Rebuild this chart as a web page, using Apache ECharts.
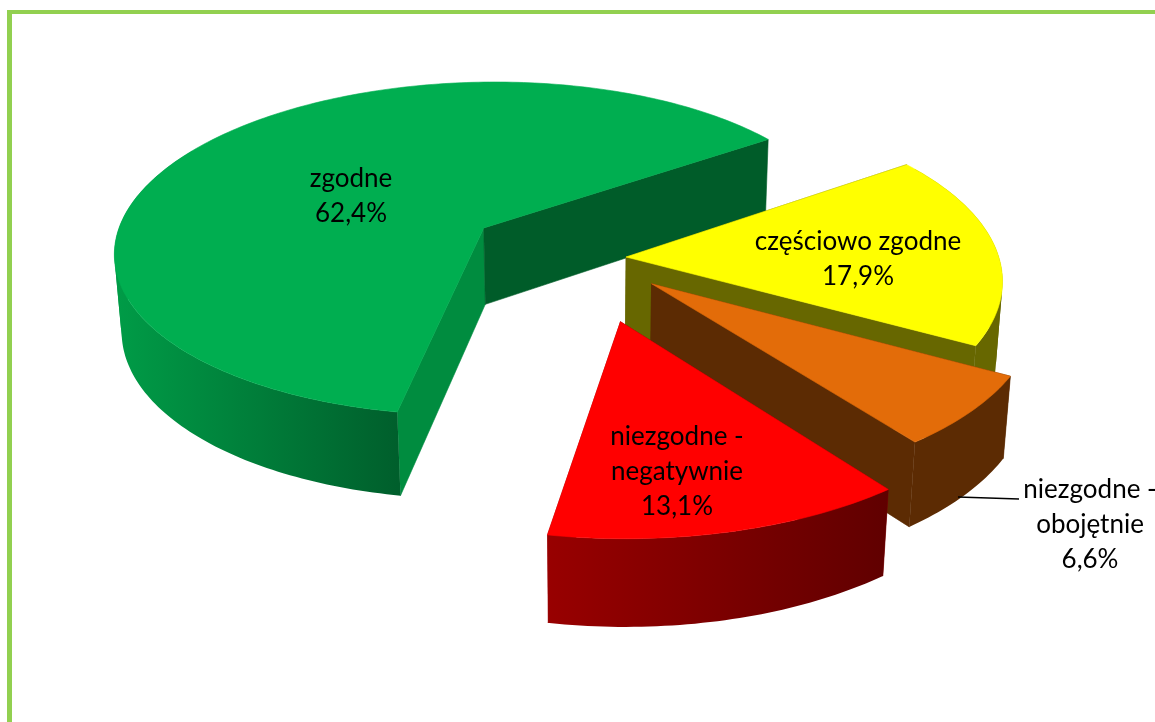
<!DOCTYPE html>
<html><head><meta charset="utf-8">
<script src="https://cdn.jsdelivr.net/npm/echarts@6/dist/echarts.min.js"></script>
<style>html,body{margin:0;padding:0;background:#fff}#c{width:1155px;height:722px}</style>
</head><body><div id="c"></div>
<script>
const labelNames = ['zgodne', 'częściowo zgodne', 'niezgodne -\nobojętnie', 'niezgodne -\nnegatywnie'];
const values = [62.4, 17.9, 6.6, 13.1];

const explode = [0.335, 0.105, 0.225, 0.365];
const topColors = ['#00AE50', '#FFFF00', '#E36C09', '#FF0000'];
const startWall = ['#008C3F', '#676700', '#5C2B03', '#7A0000'];
const endWall = ['#005C29', '#676700', '#5C2B03', '#980000'];
const arcLeft = ['#009C47', '#676700', '#5C2B03', '#980000'];
const arcRight = ['#005F2C', '#676700', '#5C2B03', '#600000'];
const labelAt = [[351, 196], [858, 259], [1090, 525], [677, 472]];
const firstAngle = 190;

const Cx = 587, Cy = 258, W = 373, sinE = 0.46, cosE = 0.888, D = 7, depth = 0.238;
const rad = Math.PI / 180;
function proj(u, v, z) {
  const p = 1 / (1 - (v * cosE - z * sinE) / D);
  return [Cx + W * u * p, Cy + W * (v * sinE + z * cosE) * p];
}
function dir(a) { return [Math.sin(a * rad), -Math.cos(a * rad)]; }

const total = values.reduce((a, b) => a + b, 0);
let acc = firstAngle;
const spans = values.map(v => { const s = acc; acc += v / total * 360; return [s, acc]; });

function renderItem(params, api) {
  const i = params.dataIndex;
  const [a0, a1] = spans[i];
  const mid = dir((a0 + a1) / 2);
  const ox = mid[0] * explode[i], oy = mid[1] * explode[i];
  const rim = (a, z) => { const d = dir(a); return proj(ox + d[0], oy + d[1], z); };
  const apexT = proj(ox, oy, 0), apexB = proj(ox, oy, depth);
  const angles = [];
  for (let a = a0; a < a1; a += 1) angles.push(a);
  angles.push(a1);
  const topPts = [apexT].concat(angles.map(a => rim(a, 0)));
  const norm = a => ((a % 360) + 360) % 360;
  // the far part of the rim sits behind the top face, so only the near part gets a wall
  const front = angles.filter(a => { const m = norm(a); return m >= 56 && m <= 300; });
  const children = [];
  const poly = (points, fill, stroke) => children.push({ type: 'polygon', shape: { points }, style: stroke ? { fill, stroke, lineWidth: 0.6 } : { fill } });
  poly([apexT, rim(a0, 0), rim(a0, depth), apexB], startWall[i], startWall[i]);
  poly([apexT, rim(a1, 0), rim(a1, depth), apexB], endWall[i], endWall[i]);
  if (front.length > 1) {
    const xs = front.map(a => rim(a, 0)[0]);
    const grad = new echarts.graphic.LinearGradient(Math.min(...xs), 0, Math.max(...xs), 0, [
      { offset: 0, color: arcLeft[i] }, { offset: 1, color: arcRight[i] }], true);
    // the wall folds over where the rim runs parallel to the wall edge: split there so no run cancels out
    const turn = k => {
      const p = rim(front[k], 0), q = rim(front[k + 1], 0), b = rim(front[k], depth);
      return Math.sign((q[0] - p[0]) * (b[1] - p[1]) - (q[1] - p[1]) * (b[0] - p[0]));
    };
    const runs = [];
    let run = [front[0]], sign = turn(0);
    for (let k = 0; k + 1 < front.length; k++) {
      const t = turn(k);
      if (t !== sign) { runs.push(run); run = [front[k]]; sign = t; }
      run.push(front[k + 1]);
    }
    runs.push(run);
    runs.forEach(r => {
      if (r.length > 1) {
        poly(r.map(a => rim(a, 0)).concat(r.slice().reverse().map(a => rim(a, depth))), grad);
      }
    });
  }
  poly(topPts, topColors[i], topColors[i]);
  if (i === 2) {
    children.push({ type: 'polyline', shape: { points: [[958, 497], [1019, 499]] }, style: { stroke: '#000', lineWidth: 1.6, fill: null } });
  }
  children.push({
    type: 'text', z2: 50,
    style: {
      text: labelNames[i] + '\n' + api.value(0).toFixed(1).replace('.', ',') + '%',
      x: labelAt[i][0], y: labelAt[i][1], textAlign: 'center', textVerticalAlign: 'middle',
      fill: '#000', fontFamily: 'Lato', fontSize: 26, lineHeight: 35
    }
  });
  return { type: 'group', children };
}

const chart = echarts.init(document.getElementById('c'), null, { renderer: 'canvas' });
chart.setOption({
  animation: false,
  backgroundColor: '#fff',
  graphic: [
    { type: 'rect', shape: { x: 7, y: 10, width: 5, height: 712 }, style: { fill: '#92D050' } },
    { type: 'rect', shape: { x: 7, y: 10, width: 1148, height: 4 }, style: { fill: '#92D050' } }
  ],
  series: [{
    type: 'custom', coordinateSystem: 'none', silent: true, renderItem,
    data: values.map((v, i) => ({ value: [v, i], name: labelNames[i] }))
  }]
});
</script></body></html>
